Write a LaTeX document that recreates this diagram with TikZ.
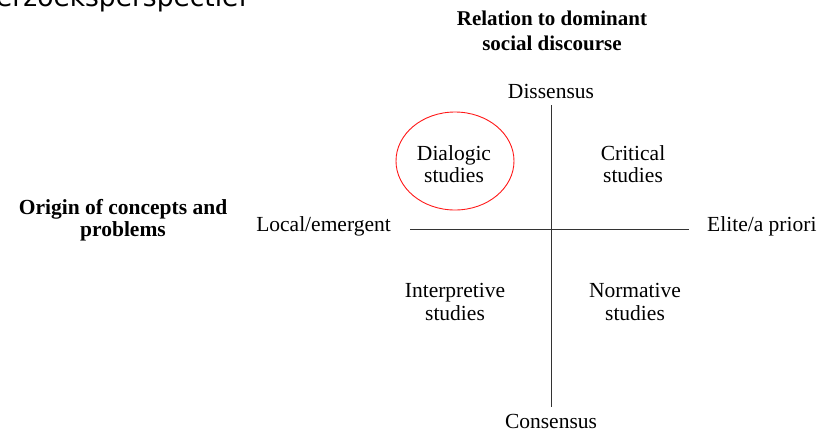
\documentclass[tikz,border=0pt]{standalone}
\usepackage{fontspec}
\setmainfont{Liberation Serif}
\newfontfamily\capfont{DejaVu Sans}
\begin{document}
\begin{tikzpicture}[x=1pt,y=-1pt]%
%
\tikzset{
  term/.style={font=\fontsize{21.5}{22.5}\selectfont, align=center, inner sep=0pt},
  heading/.style={font=\fontsize{21}{24.5}\selectfont\bfseries, align=center, inner sep=0pt},
  axis/.style={draw=black!80, line width=1pt},
}
\useasboundingbox (0,0) rectangle (820,432);
\clip (0,0) rectangle (820,432);
%
% caption line cut off above the frame
\node[anchor=base west, inner sep=0pt, font=\fontsize{26.5}{28}\selectfont\capfont] (cap) at (-4,6) {erzoeksperspectief};
%
% axis ends
\coordinate (top) at (551,105);
\coordinate (bottom) at (551,407);
\coordinate (left) at (410,229);
\coordinate (right) at (689,229);
\draw[axis] (top) -- (bottom);
\draw[axis] (left) -- (right);
%
% axis titles
\node[heading] (relation) at (552,31) {Relation to dominant\\social discourse};
\node[heading, font=\fontsize{21.5}{21.5}\selectfont\bfseries] (origin) at (123,220) {Origin of concepts and\\problems};
%
% pole labels
\node[term] (dissensus) at (551,91) {Dissensus};
\node[term] (consensus) at (551,421) {Consensus};
\node[term, anchor=east] (local) at (391,226) {Local/emergent};
\node[term, anchor=west] (elite) at (707,226) {Elite/a priori};
%
% quadrants
\node[term] (dialogic) at (454,164) {Dialogic\\studies};
\node[term] (critical) at (633,164) {Critical\\studies};
\node[term] (interpretive) at (455,302) {Interpretive\\studies};
\node[term] (normative) at (635,302) {Normative\\studies};
%
\draw[red!90!white, line width=0.9pt] (455,161) ellipse [x radius=59, y radius=49];
%
\end{tikzpicture}
\end{document}
